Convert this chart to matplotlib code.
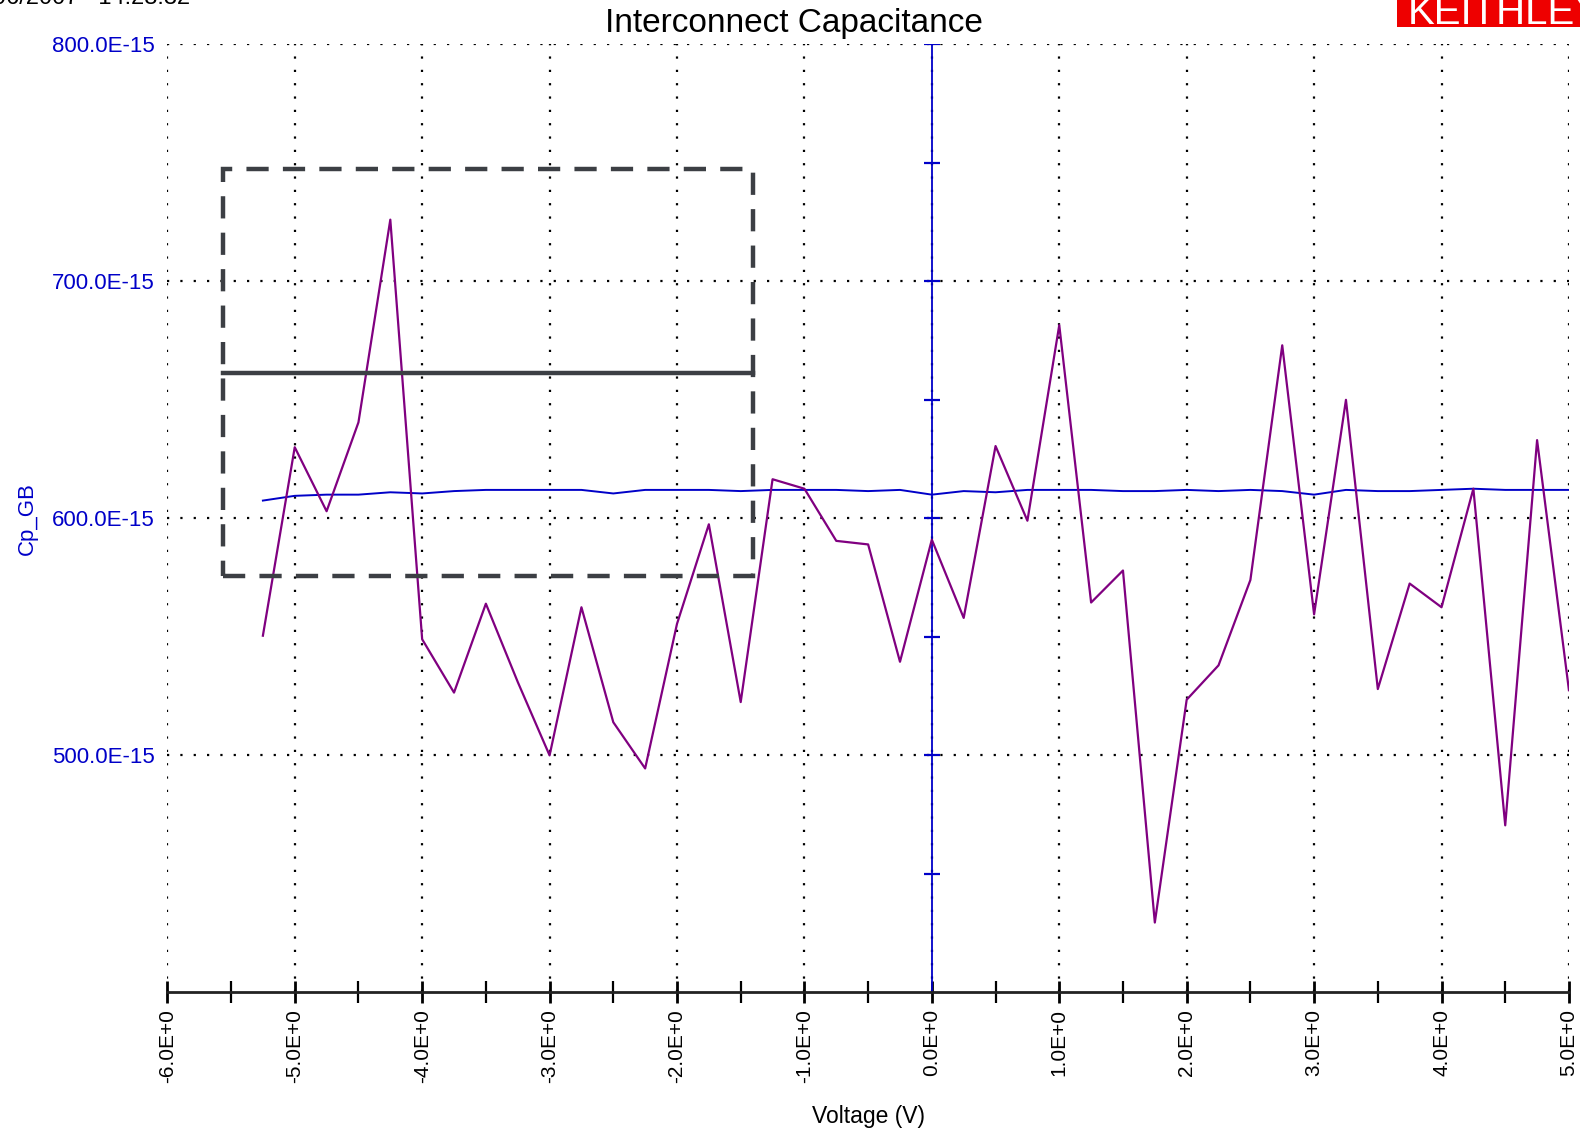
# Interconnect capacitance sweep (Keithley CV plot)
import numpy as np
import matplotlib.pyplot as plt
from matplotlib.patches import Rectangle

plt.rcParams['font.family'] = ['Liberation Sans', 'DejaVu Sans']

# Data (V, fF)
voltage = [-5.25, -5.0, -4.75, -4.5, -4.25, -4.0, -3.75, -3.5, -3.25, -3.0,
           -2.75, -2.5, -2.25, -2.0, -1.75, -1.5, -1.25, -1.0, -0.75, -0.5,
           -0.25, 0.0, 0.25, 0.5, 0.75, 1.0, 1.25, 1.5, 1.75, 2.0,
           2.25, 2.5, 2.75, 3.0, 3.25, 3.5, 3.75, 4.0, 4.25, 4.5,
           4.75, 5.0]
cp_raw = [550.5, 630, 603, 640.5, 726, 549, 526.5, 564, 531, 500,
          562.5, 514, 494.5, 555.5, 597.5, 522.5, 616.5, 612.5, 590.5, 589,
          539.5, 591, 558, 630.5, 599, 681.5, 564.5, 578, 429.5, 523.5,
          538, 574, 673, 559.5, 650, 528, 572.5, 562.5, 612.5, 470.5,
          633, 527.5]
cp_gb = [607.5, 609.5, 610, 610, 611, 610.5, 611.5, 612, 612, 612,
         612, 610.5, 612, 612, 612, 611.5, 612, 612, 612, 611.5,
         612, 610, 611.5, 611, 612, 612, 612, 611.5, 611.5, 612,
         611.5, 612, 611.5, 610, 612, 611.5, 611.5, 612, 612.5, 612,
         612, 612]

# annotation box drawn over the plot: x0, x1 (V), y0, y1, middle line (fF)
box_x = [-5.56, -1.40]
box_y = [575.7, 747.2]
box_mid = 661.3

x_major = [-6, -5, -4, -3, -2, -1, 0, 1, 2, 3, 4, 5]
y_major = [500, 600, 700, 800]
y_labels = ['500.0E-15', '600.0E-15', '700.0E-15', '800.0E-15']

blue = '#0000c8'
purple = '#800080'
box_col = '#3c3f44'

fig = plt.figure(figsize=(15.8, 11.34), dpi=100)
ax = fig.add_axes([0.1059, 0.1248, 0.993 - 0.1059, 0.961 - 0.1248])

ax.set_xlim(-6, 5)
ax.set_ylim(400, 800)

# dotted grid
for xv in x_major:
    ax.plot([xv, xv], [400, 800], color='black', lw=1.6,
            linestyle=(0, (1, 5)), zorder=1)
for yv in y_major:
    ax.plot([-6, 5], [yv, yv], color='black', lw=1.6,
            linestyle=(0, (1, 5)), zorder=1)

# blue zero axis with its own ticks
ax.axvline(0, color=blue, lw=1.3, zorder=2)
yt = np.arange(450, 801, 50)
ax.plot([0] * len(yt), yt, ls='none', marker='_', ms=12, mew=1.6,
        color=blue, zorder=2)

# series
ax.plot(voltage, cp_gb, color=blue, lw=1.4, zorder=3)
ax.plot(voltage, cp_raw, color=purple, lw=1.6, zorder=4)

# dashed annotation box
rect = Rectangle((box_x[0], box_y[0]), box_x[1] - box_x[0], box_y[1] - box_y[0],
                 fill=False, edgecolor=box_col, lw=3.2,
                 linestyle=(0, (5, 3.2)), zorder=5)
ax.add_patch(rect)
ax.plot(box_x, [box_mid, box_mid], color=box_col, lw=3.2, zorder=5)

# axes styling
for s in ['top', 'right', 'left']:
    ax.spines[s].set_visible(False)
ax.spines['bottom'].set_linewidth(2)
ax.spines['bottom'].set_color('#222222')

ax.set_xticks(x_major)
ax.set_xticklabels([f"{v:.1f}E+0" for v in x_major], rotation=90,
                   fontsize=15)
ax.set_xticks(np.arange(-5.5, 5, 1.0), minor=True)
ax.tick_params(axis='x', which='major', direction='inout', length=16,
               width=2, pad=4, colors='black')
ax.tick_params(axis='x', which='minor', direction='inout', length=16,
               width=1.6)

ax.set_yticks(y_major)
ax.set_yticklabels(y_labels, fontsize=16, color=blue)
ax.tick_params(axis='y', length=0, pad=9)

ax.set_xlabel('Voltage (V)', fontsize=16.5, labelpad=16)
ax.set_ylabel('Cp_GB', fontsize=16, color=blue)
ax.yaxis.set_label_coords(-0.092, 0.5)

fig.text(0.5025, 0.979, 'Interconnect Capacitance', ha='center',
         va='center', fontsize=24)

# header texts cropped by the page edge
fig.text(190 / 1580, 1 - 4 / 1134, '7/06/2007   14:28:32', ha='right',
         va='baseline', fontsize=17)
fig.patches.append(Rectangle((1397 / 1580, 1 - 27 / 1134), 183 / 1580,
                             27 / 1134, transform=fig.transFigure,
                             facecolor='#ee0000', edgecolor='none'))
fig.text(1408 / 1580, 1 - 24 / 1134, 'KEITHLEY', ha='left', va='baseline',
         fontsize=29, color='white')

fig.savefig('out.png', dpi=100)
